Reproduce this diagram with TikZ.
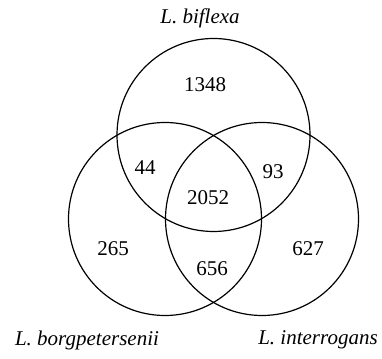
\documentclass[tikz,border=0pt]{standalone}
\usepackage{fontspec}
\setmainfont{Liberation Serif}
\begin{document}
\begin{tikzpicture}[x=1pt,y=1pt,
  setc/.style={draw=black,line width=1.2pt,circle,minimum size=193pt,inner sep=0pt},
  num/.style={font=\fontsize{21}{25}\selectfont,inner sep=0pt},
  lab/.style={font=\fontsize{21}{25}\selectfont\itshape,inner sep=0pt}]
\useasboundingbox (0,0) rectangle (382,358);
\node[setc] (A) at (213.5,223) {};
\node[setc] (B) at (165,139) {};
\node[setc] (C) at (262,139) {};
\node[lab] (la) at (200,339.5) {L. biflexa};
\node[lab] (lb) at (87,18) {L. borgpetersenii};
\node[lab] (lc) at (318,18) {L. interrogans};
\node[num] (n1) at (205,273) {1348};
\node[num] (n2) at (145,190) {44};
\node[num] (n3) at (273,186) {93};
\node[num] (n4) at (208,160) {2052};
\node[num] (n5) at (113,109) {265};
\node[num] (n6) at (308,109) {627};
\node[num] (n7) at (212,89) {656};
\end{tikzpicture}
\end{document}
